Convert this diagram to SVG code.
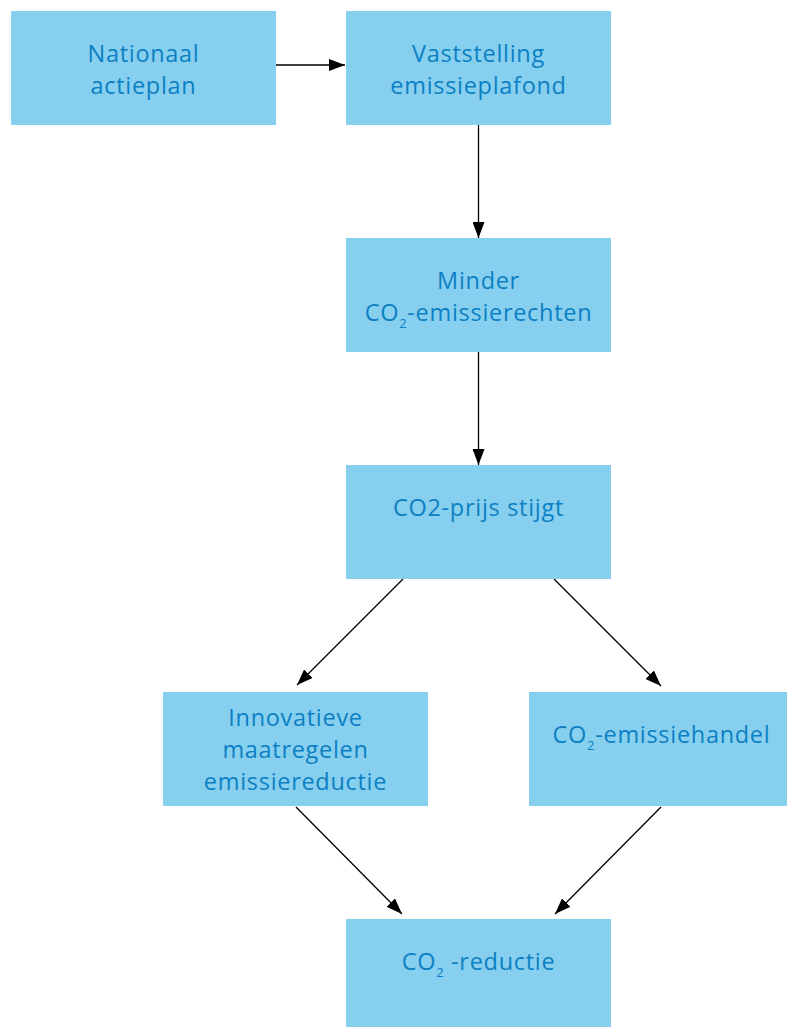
<svg xmlns="http://www.w3.org/2000/svg" width="787" height="1027" viewBox="0 0 787 1027">
<style>
.box{fill:#86CFEF}
.t{font-family:"Open Sans","Liberation Sans",sans-serif;font-size:23.5px;letter-spacing:0.7px;fill:#0C80C3;text-anchor:middle}
.sub{font-size:13px}
.c{stroke:#000;stroke-width:1.3;fill:none;marker-end:url(#ah)}
</style>
<defs>
<marker id="ah" viewBox="0 0 16 12" refX="16" refY="6" markerWidth="16" markerHeight="12" markerUnits="userSpaceOnUse" orient="auto">
<path d="M0,0 L16,6 L0,12 z" fill="#000"/>
</marker>
</defs>
<g id="connectors">
<line class="c" x1="276" y1="65" x2="345" y2="65"/>
<line class="c" x1="478.5" y1="125" x2="478.5" y2="238"/>
<line class="c" x1="478.5" y1="352" x2="478.5" y2="465"/>
<line class="c" x1="403" y1="579" x2="297" y2="685"/>
<line class="c" x1="554" y1="579" x2="661" y2="686"/>
<line class="c" x1="296" y1="807" x2="402" y2="914"/>
<line class="c" x1="661" y1="807" x2="555" y2="914"/>
</g>
<g id="n1"><rect class="box" x="11" y="11" width="265" height="114"/>
<text class="t" x="143.5" y="62">Nationaal</text><text class="t" x="143.5" y="94">actieplan</text></g>
<g id="n2"><rect class="box" x="346" y="11" width="265" height="114"/>
<text class="t" x="478.5" y="62">Vaststelling</text><text class="t" x="478.5" y="94">emissieplafond</text></g>
<g id="n3"><rect class="box" x="346" y="238" width="265" height="114"/>
<text class="t" x="478.5" y="289">Minder</text><text class="t" x="478.5" y="321">CO<tspan class="sub" dy="7">2</tspan><tspan dy="-7">-emissierechten</tspan></text></g>
<g id="n4"><rect class="box" x="346" y="465" width="265" height="114"/>
<text class="t" x="478.5" y="516">CO2-prijs stijgt</text></g>
<g id="n5"><rect class="box" x="163" y="692" width="265" height="114"/>
<text class="t" x="295.5" y="726">Innovatieve</text><text class="t" x="295.5" y="758">maatregelen</text><text class="t" x="295.5" y="790">emissiereductie</text></g>
<g id="n6"><rect class="box" x="529" y="692" width="265" height="114"/>
<text class="t" x="661.5" y="743">CO<tspan class="sub" dy="7">2</tspan><tspan dy="-7">-emissiehandel</tspan></text></g>
<g id="n7"><rect class="box" x="346" y="919" width="265" height="108"/>
<text class="t" x="478.5" y="970">CO<tspan class="sub" dy="7">2</tspan><tspan dy="-7"> -reductie</tspan></text></g>
</svg>
